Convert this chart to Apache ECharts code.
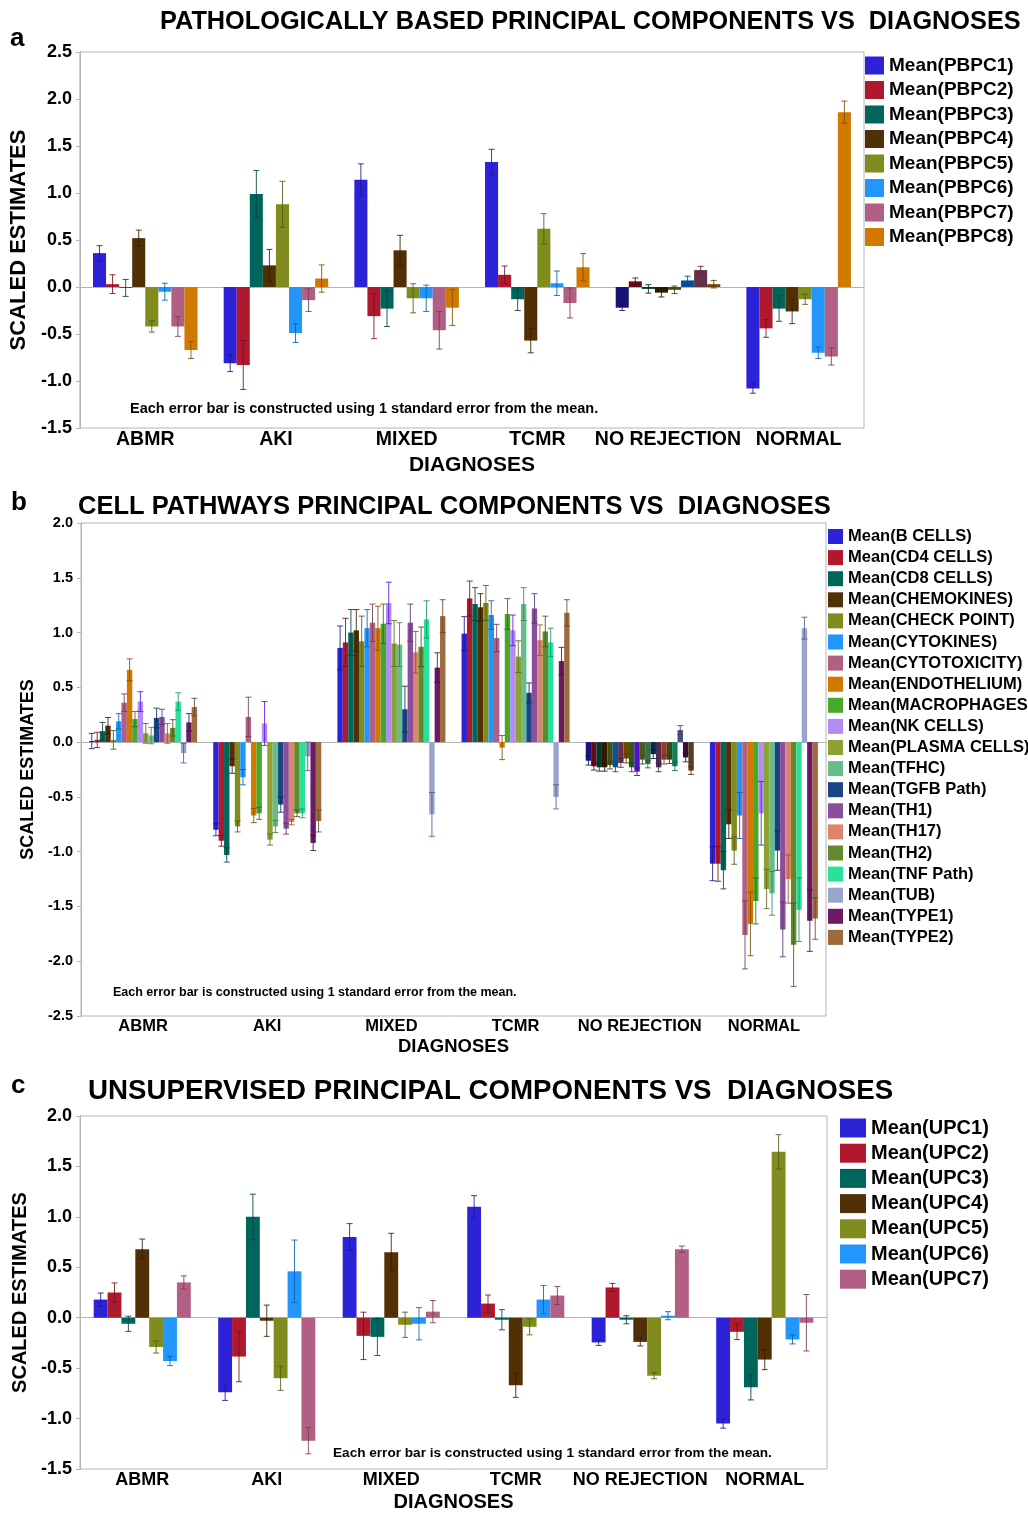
<!DOCTYPE html>
<html><head><meta charset="utf-8">
<script src="https://cdn.jsdelivr.net/npm/echarts@6/dist/echarts.min.js"></script>
<style>html,body{margin:0;padding:0;background:#fff}#c{width:1028px;height:1513px}</style>
</head><body><div id="c"></div>
<script>
const categories = ['ABMR', 'AKI', 'MIXED', 'TCMR', 'NO REJECTION', 'NORMAL'];

// ---------- Panel a ----------
const aNames = ['Mean(PBPC1)', 'Mean(PBPC2)', 'Mean(PBPC3)', 'Mean(PBPC4)', 'Mean(PBPC5)', 'Mean(PBPC6)', 'Mean(PBPC7)', 'Mean(PBPC8)'];
const aABMR      = [0.36, 0.03, -0.01, 0.52, -0.42, -0.05, -0.42, -0.67];
const aABMRErr   = [0.08, 0.10, 0.09, 0.085, 0.06, 0.09, 0.105, 0.09];
const aAKI       = [-0.81, -0.83, 0.99, 0.23, 0.88, -0.49, -0.14, 0.09];
const aAKIErr    = [0.09, 0.26, 0.25, 0.17, 0.245, 0.10, 0.12, 0.145];
const aMIXED     = [1.14, -0.31, -0.23, 0.39, -0.12, -0.12, -0.46, -0.22];
const aMIXEDErr  = [0.17, 0.24, 0.19, 0.16, 0.155, 0.14, 0.20, 0.19];
const aTCMR      = [1.33, 0.13, -0.13, -0.57, 0.62, 0.04, -0.17, 0.21];
const aTCMRErr   = [0.135, 0.093, 0.12, 0.13, 0.16, 0.13, 0.16, 0.146];
const aNOREJ     = [-0.22, 0.06, -0.02, -0.06, -0.03, 0.07, 0.18, 0.03];
const aNOREJErr  = [0.03, 0.036, 0.045, 0.046, 0.04, 0.045, 0.04, 0.04];
const aNORMAL    = [-1.08, -0.44, -0.23, -0.26, -0.13, -0.70, -0.74, 1.86];
const aNORMALErr = [0.05, 0.095, 0.135, 0.13, 0.055, 0.06, 0.09, 0.118];

// ---------- Panel b ----------
const bNames = ['Mean(B CELLS)', 'Mean(CD4 CELLS)', 'Mean(CD8 CELLS)', 'Mean(CHEMOKINES)', 'Mean(CHECK POINT)', 'Mean(CYTOKINES)', 'Mean(CYTOTOXICITY)', 'Mean(ENDOTHELIUM)', 'Mean(MACROPHAGES', 'Mean(NK CELLS)', 'Mean(PLASMA CELLS)', 'Mean(TFHC)', 'Mean(TGFB Path)', 'Mean(TH1)', 'Mean(TH17)', 'Mean(TH2)', 'Mean(TNF Path)', 'Mean(TUB)', 'Mean(TYPE1)', 'Mean(TYPE2)'];
const bABMR      = [0.01, 0.02, 0.10, 0.15, 0.02, 0.19, 0.36, 0.66, 0.21, 0.37, 0.08, 0.06, 0.22, 0.23, 0.08, 0.13, 0.37, -0.10, 0.18, 0.32];
const bABMRErr   = [0.07, 0.07, 0.08, 0.075, 0.085, 0.07, 0.08, 0.10, 0.07, 0.09, 0.09, 0.075, 0.09, 0.07, 0.09, 0.075, 0.08, 0.09, 0.08, 0.08];
const bAKI       = [-0.80, -0.90, -1.03, -0.22, -0.77, -0.32, 0.23, -0.67, -0.65, 0.17, -0.89, -0.77, -0.57, -0.79, -0.73, -0.65, -0.65, -0.13, -0.92, -0.72];
const bAKIErr    = [0.055, 0.05, 0.065, 0.065, 0.05, 0.07, 0.18, 0.065, 0.055, 0.20, 0.05, 0.055, 0.07, 0.05, 0.025, 0.03, 0.04, 0.13, 0.07, 0.10];
const bMIXED     = [0.86, 0.91, 1.00, 1.02, 0.92, 1.04, 1.09, 1.04, 1.08, 1.27, 0.90, 0.89, 0.30, 1.09, 0.82, 0.87, 1.12, -0.66, 0.68, 1.15];
const bMIXEDErr  = [0.20, 0.22, 0.21, 0.19, 0.23, 0.17, 0.17, 0.20, 0.18, 0.19, 0.21, 0.20, 0.21, 0.17, 0.19, 0.18, 0.17, 0.20, 0.135, 0.15];
const bTCMR      = [0.99, 1.31, 1.26, 1.23, 1.27, 1.16, 0.95, -0.05, 1.17, 1.02, 0.78, 1.26, 0.45, 1.22, 0.93, 1.01, 0.91, -0.50, 0.74, 1.18];
const bTCMRErr   = [0.155, 0.16, 0.15, 0.125, 0.16, 0.13, 0.125, 0.11, 0.14, 0.14, 0.145, 0.15, 0.09, 0.135, 0.14, 0.14, 0.13, 0.11, 0.125, 0.12];
const bNOREJ     = [-0.17, -0.22, -0.23, -0.23, -0.21, -0.23, -0.19, -0.15, -0.23, -0.27, -0.16, -0.20, -0.11, -0.23, -0.16, -0.16, -0.22, 0.11, -0.14, -0.26];
const bNOREJErr  = [0.04, 0.035, 0.035, 0.035, 0.035, 0.04, 0.04, 0.04, 0.04, 0.035, 0.04, 0.035, 0.04, 0.04, 0.04, 0.035, 0.04, 0.04, 0.04, 0.035];
const bNORMAL    = [-1.11, -1.11, -1.17, -0.75, -0.99, -0.67, -1.76, -1.66, -1.45, -0.65, -1.34, -1.38, -0.99, -1.71, -1.25, -1.85, -1.53, 1.04, -1.63, -1.61];
const bNORMALErr = [0.155, 0.16, 0.17, 0.13, 0.125, 0.21, 0.31, 0.29, 0.21, 0.29, 0.18, 0.20, 0.18, 0.25, 0.22, 0.38, 0.29, 0.10, 0.28, 0.19];

// ---------- Panel c ----------
const cNames = ['Mean(UPC1)', 'Mean(UPC2)', 'Mean(UPC3)', 'Mean(UPC4)', 'Mean(UPC5)', 'Mean(UPC6)', 'Mean(UPC7)'];
const cABMR      = [0.18, 0.25, -0.06, 0.68, -0.29, -0.43, 0.35];
const cABMRErr   = [0.065, 0.095, 0.075, 0.10, 0.06, 0.045, 0.065];
const cAKI       = [-0.74, -0.385, 1.00, -0.03, -0.60, 0.46, -1.22];
const cAKIErr    = [0.08, 0.25, 0.225, 0.155, 0.12, 0.31, 0.13];
const cMIXED     = [0.80, -0.18, -0.19, 0.65, -0.07, -0.06, 0.06];
const cMIXEDErr  = [0.133, 0.235, 0.185, 0.187, 0.125, 0.16, 0.11];
const cTCMR      = [1.10, 0.14, -0.02, -0.67, -0.09, 0.18, 0.22];
const cTCMRErr   = [0.11, 0.085, 0.10, 0.12, 0.08, 0.14, 0.09];
const cNOREJ     = [-0.245, 0.30, -0.02, -0.24, -0.575, 0.02, 0.68];
const cNOREJErr  = [0.03, 0.04, 0.04, 0.04, 0.03, 0.04, 0.03];
const cNORMAL    = [-1.05, -0.14, -0.69, -0.415, 1.645, -0.215, -0.05];
const cNORMALErr = [0.045, 0.077, 0.125, 0.10, 0.17, 0.045, 0.28];

const yTicksA = [-1.5, 2.5, 0.5];
const yTicksB = [-2.5, 2.0, 0.5];
const yTicksC = [-1.5, 2.0, 0.5];

const note = 'Each error bar is constructed using 1 standard error from the mean.';

// ---------- styling ----------
const FONT = '"Liberation Sans", Arial, sans-serif';
const palette = ['#2c23d9', '#b0182e', '#00665c', '#523005', '#808c1e', '#2396fb', '#b15f84', '#d07800',
  '#48a82a', '#b18cf5', '#8ea232', '#65be8a', '#1a4585', '#8b4e9f', '#de846a', '#63882e', '#28e29a', '#9aa3c8', '#6b1a66', '#9f6b3e'];

function darken(hex, f) {
  let r = parseInt(hex.slice(1, 3), 16) / 255, g = parseInt(hex.slice(3, 5), 16) / 255, b = parseInt(hex.slice(5, 7), 16) / 255;
  const max = Math.max(r, g, b), min = Math.min(r, g, b);
  let h = 0, s = 0, l = (max + min) / 2;
  if (max !== min) {
    const d = max - min;
    s = l > 0.5 ? d / (2 - max - min) : d / (max + min);
    if (max === r) h = (g - b) / d + (g < b ? 6 : 0);
    else if (max === g) h = (b - r) / d + 2;
    else h = (r - g) / d + 4;
    h /= 6;
  }
  l *= f;
  function h2r(p, q, t) { if (t < 0) t += 1; if (t > 1) t -= 1; if (t < 1 / 6) return p + (q - p) * 6 * t; if (t < 1 / 2) return q; if (t < 2 / 3) return p + (q - p) * (2 / 3 - t) * 6; return p; }
  if (s === 0) { r = g = b = l; } else {
    const q = l < 0.5 ? l * (1 + s) : l + s - l * s, p = 2 * l - q;
    r = h2r(p, q, h + 1 / 3); g = h2r(p, q, h); b = h2r(p, q, h - 1 / 3);
  }
  return 'rgb(' + Math.round(r * 255) + ',' + Math.round(g * 255) + ',' + Math.round(b * 255) + ')';
}

const AX = '#b4b4b4';
const panels = [
  { names: aNames, groups: [aABMR, aAKI, aMIXED, aTCMR, aNOREJ, aNORMAL], errs: [aABMRErr, aAKIErr, aMIXEDErr, aTCMRErr, aNOREJErr, aNORMALErr],
    dark: true, gap: 0.20, grid: { left: 79, top: 52, width: 785, height: 376 }, y: yTicksA,
    ylab: 18, yname: 22, ynameGap: 45, xlab: 19.5, xname: 21, xnameGap: 27,
    legend: { left: 865, top: 56, itemWidth: 19, itemHeight: 18, itemGap: 5.5, fs: 19 } },
  { names: bNames, groups: [bABMR, bAKI, bMIXED, bTCMR, bNOREJ, bNORMAL], errs: [bABMRErr, bAKIErr, bMIXEDErr, bTCMRErr, bNOREJErr, bNORMALErr],
    dark: true, gap: 0.13, grid: { left: 81, top: 523, width: 745, height: 493 }, y: yTicksB,
    ylab: 14.5, yname: 18, ynameGap: 40, xlab: 16.5, xname: 18.5, xnameGap: 21,
    legend: { left: 828, top: 528, itemWidth: 15, itemHeight: 15, itemGap: 4.1, fs: 16.5 } },
  { names: cNames, groups: [cABMR, cAKI, cMIXED, cTCMR, cNOREJ, cNORMAL], errs: [cABMRErr, cAKIErr, cMIXEDErr, cTCMRErr, cNOREJErr, cNORMALErr],
    dark: false, gap: 0.22, grid: { left: 80, top: 1116, width: 747, height: 353 }, y: yTicksC,
    ylab: 18, yname: 20, ynameGap: 42, xlab: 18, xname: 20, xnameGap: 23,
    legend: { left: 840, top: 1118, itemWidth: 26, itemHeight: 19, itemGap: 5.2, fs: 20 } }
];

const grids = [], xAxes = [], yAxes = [], legends = [], series = [];
panels.forEach((p, gi) => {
  grids.push(Object.assign({ show: true, borderColor: AX, borderWidth: 1, containLabel: false }, p.grid));
  xAxes.push({
    type: 'category', gridIndex: gi, data: categories,
    axisTick: { show: false }, axisLine: { lineStyle: { color: AX } },
    axisLabel: { interval: 0, margin: 2, color: '#000', fontWeight: 'bold', fontSize: p.xlab, fontFamily: FONT },
    name: 'DIAGNOSES', nameLocation: 'middle', nameGap: p.xnameGap,
    nameTextStyle: { color: '#000', fontWeight: 'bold', fontSize: p.xname, fontFamily: FONT }
  });
  yAxes.push({
    type: 'value', gridIndex: gi, min: p.y[0], max: p.y[1], interval: p.y[2],
    splitLine: { show: false },
    axisLine: { show: true, lineStyle: { color: AX } },
    axisTick: { show: true, length: 4, lineStyle: { color: AX } },
    axisLabel: { margin: 8, color: '#000', fontWeight: 'bold', fontSize: p.ylab, fontFamily: FONT, formatter: v => v.toFixed(1) },
    name: 'SCALED ESTIMATES', nameLocation: 'middle', nameGap: p.ynameGap, nameRotate: 90,
    nameTextStyle: { color: '#000', fontWeight: 'bold', fontSize: p.yname, fontFamily: FONT }
  });
  legends.push({
    data: p.names, orient: 'vertical', left: p.legend.left, top: p.legend.top, padding: 0,
    itemWidth: p.legend.itemWidth, itemHeight: p.legend.itemHeight, itemGap: p.legend.itemGap, icon: 'rect',
    selectedMode: false,
    textStyle: { color: '#000', fontWeight: 'bold', fontSize: p.legend.fs, fontFamily: FONT }
  });
  const n = p.names.length;
  p.names.forEach((name, j) => {
    const col = palette[j];
    series.push({
      type: 'bar', name: name, xAxisIndex: gi, yAxisIndex: gi,
      barGap: '0%', barCategoryGap: (p.gap * 100) + '%',
      itemStyle: { color: col }, emphasis: { disabled: true },
      data: p.groups.map((grp, i) => (p.dark && i === 4) ? { value: grp[j], itemStyle: { color: darken(col, 0.55) } } : grp[j])
    });
  });
  const errData = [];
  p.groups.forEach((grp, i) => grp.forEach((v, j) => errData.push([i, v, p.errs[i][j], j])));
  const gap = p.gap;
  series.push({
    type: 'custom', xAxisIndex: gi, yAxisIndex: gi, silent: true, z: 10,
    encode: { x: 0, y: 1 }, data: errData,
    renderItem: function (params, api) {
      const cat = api.value(0), m = api.value(1), e = api.value(2), j = api.value(3);
      const band = api.size([1, 0])[0];
      const inner = band * (1 - gap);
      const bw = inner / n;
      const c = api.coord([cat, m]);
      const x = c[0] - inner / 2 + (j + 0.5) * bw;
      const yt = api.coord([cat, m + e])[1];
      const yb = api.coord([cat, m - e])[1];
      const col = darken(palette[j], (p.dark && cat === 4) ? 0.45 : 0.65);
      const st = { stroke: col, lineWidth: 1, opacity: 0.85 };
      const cw = 3;
      return {
        type: 'group', children: [
          { type: 'line', shape: { x1: x, y1: yt, x2: x, y2: yb }, style: st },
          { type: 'line', shape: { x1: x - cw, y1: yt, x2: x + cw, y2: yt }, style: st },
          { type: 'line', shape: { x1: x - cw, y1: yb, x2: x + cw, y2: yb }, style: st }
        ]
      };
    }
  });
});

function txt(t, x, y, size) {
  return { type: 'text', x: x, y: y, z: 100, style: { text: t, fill: '#000', font: 'bold ' + size + 'px ' + FONT, verticalAlign: 'middle', align: 'left' } };
}

const chart = echarts.init(document.getElementById('c'), null, { renderer: 'canvas' });
chart.setOption({
  animation: false,
  backgroundColor: '#fff',
  grid: grids, xAxis: xAxes, yAxis: yAxes, legend: legends, series: series,
  graphic: [
    txt('a', 10, 39, 26),
    txt('PATHOLOGICALLY BASED PRINCIPAL COMPONENTS VS  DIAGNOSES', 160, 22, 25.3),
    txt(note, 130, 409, 14.5),
    txt('b', 11, 503, 26),
    txt('CELL PATHWAYS PRINCIPAL COMPONENTS VS  DIAGNOSES', 78, 507, 25.5),
    txt(note, 113, 993, 12.5),
    txt('c', 11, 1086, 26),
    txt('UNSUPERVISED PRINCIPAL COMPONENTS VS  DIAGNOSES', 88, 1091, 27.7),
    txt(note, 333, 1453, 13.6)
  ]
});
</script>
</body></html>
